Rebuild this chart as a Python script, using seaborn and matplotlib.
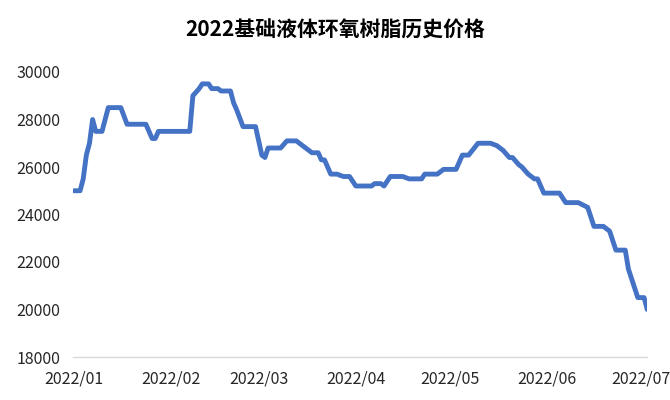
import matplotlib
matplotlib.use("Agg")
import matplotlib.pyplot as plt
import matplotlib.dates as mdates
import seaborn as sns
import pandas as pd

dates = ["2022-01-01", "2022-01-03", "2022-01-04", "2022-01-05", "2022-01-06", "2022-01-07",
         "2022-01-08", "2022-01-10", "2022-01-12", "2022-01-16", "2022-01-18", "2022-01-24",
         "2022-01-26", "2022-01-27", "2022-01-28", "2022-02-07", "2022-02-08", "2022-02-10",
         "2022-02-11", "2022-02-13", "2022-02-14", "2022-02-16", "2022-02-17", "2022-02-20",
         "2022-02-21", "2022-02-22", "2022-02-24", "2022-02-28", "2022-03-02", "2022-03-03",
         "2022-03-04", "2022-03-08", "2022-03-10", "2022-03-13", "2022-03-15", "2022-03-16",
         "2022-03-18", "2022-03-20", "2022-03-21", "2022-03-22", "2022-03-24", "2022-03-26",
         "2022-03-28", "2022-03-30", "2022-04-01", "2022-04-06", "2022-04-07", "2022-04-09",
         "2022-04-10", "2022-04-12", "2022-04-16", "2022-04-18", "2022-04-22", "2022-04-23",
         "2022-04-27", "2022-04-29", "2022-05-03", "2022-05-05", "2022-05-07", "2022-05-10",
         "2022-05-14", "2022-05-16", "2022-05-18", "2022-05-20", "2022-05-21", "2022-05-23",
         "2022-05-24", "2022-05-26", "2022-05-28", "2022-05-29", "2022-05-31", "2022-06-05",
         "2022-06-07", "2022-06-11", "2022-06-14", "2022-06-16", "2022-06-19", "2022-06-21",
         "2022-06-23", "2022-06-26", "2022-06-27", "2022-06-30", "2022-07-02", "2022-07-03"]

prices = [25000, 25000, 25500, 26500, 27000, 28000,
          27500, 27500, 28500, 28500, 27800, 27800,
          27200, 27200, 27500, 27500, 29000, 29300,
          29500, 29500, 29300, 29300, 29200, 29200,
          28700, 28400, 27700, 27700, 26500, 26400,
          26800, 26800, 27100, 27100, 26900, 26800,
          26600, 26600, 26300, 26300, 25700, 25700,
          25600, 25600, 25200, 25200, 25300, 25300,
          25200, 25600, 25600, 25500, 25500, 25700,
          25700, 25900, 25900, 26500, 26500, 27000,
          27000, 26900, 26700, 26400, 26400, 26100,
          26000, 25700, 25500, 25500, 24900, 24900,
          24500, 24500, 24300, 23500, 23500, 23300,
          22500, 22500, 21700, 20500, 20500, 20000]

y_ticks = [18000, 20000, 22000, 24000, 26000, 28000, 30000]
title = "2022基础液体环氧树脂历史价格"

sns.set_theme(style="white")
plt.rcParams['font.family'] = ['Noto Sans CJK SC', 'DejaVu Sans']

df = pd.DataFrame({"date": pd.to_datetime(dates), "price": prices})

fig = plt.figure(figsize=(6.7, 4.0), dpi=100)
ax = fig.add_axes([0.109, 0.1075, 0.857, 0.7125])

sns.lineplot(data=df, x="date", y="price", ax=ax, color="#4472C4", linewidth=3.5)

ax.set_xlim(pd.Timestamp("2021-12-31 18:00"), pd.Timestamp("2022-07-03"))
ax.set_ylim(18000, 30000)
ax.set_yticks(y_ticks)
ax.xaxis.set_major_locator(mdates.MonthLocator())
ax.xaxis.set_major_formatter(mdates.DateFormatter("%Y/%m"))

ax.set_xlabel("")
ax.set_ylabel("")
for s in ["top", "right", "left"]:
    ax.spines[s].set_visible(False)
ax.spines["bottom"].set_color("#D9D9D9")
ax.spines["bottom"].set_linewidth(1.0)
ax.grid(False)

ax.tick_params(axis="y", length=0, pad=9, labelsize=11.5, labelcolor="#262626")
ax.tick_params(axis="x", length=0, pad=10, labelsize=11.5, labelcolor="#262626")

fig.text(0.5, 0.925, title, ha="center", va="center", fontsize=15, fontweight="bold", color="#000000")

fig.savefig("out.png", dpi=100)
